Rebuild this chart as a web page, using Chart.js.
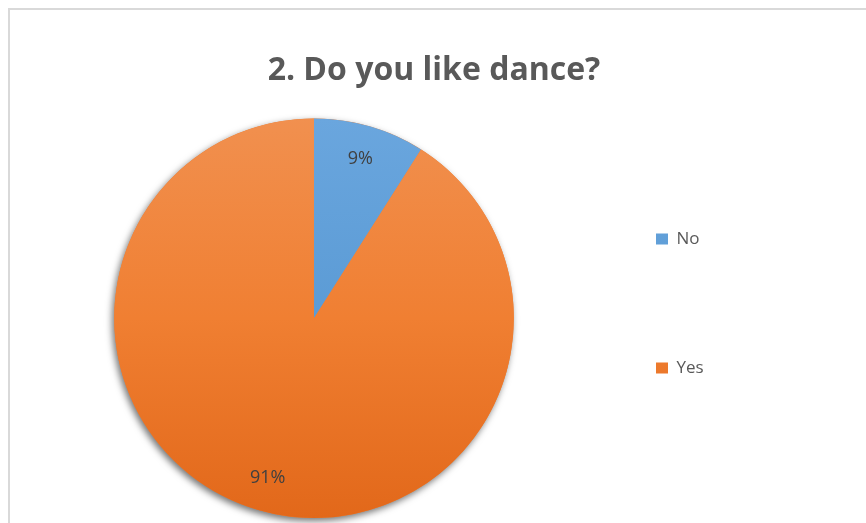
<!DOCTYPE html>
<html>
<head>
<meta charset="utf-8">
<script src="https://cdn.jsdelivr.net/npm/chart.js@4.4.1/dist/chart.umd.min.js"></script>
<style>
  html, body { margin: 0; padding: 0; background: #fff; overflow: hidden; }
  #frame { position: absolute; left: 8px; top: 8px; width: 1000px; height: 800px;
           border-left: 2px solid #d9d9d9; border-top: 2px solid #d9d9d9; }
  #wrap { position: absolute; left: 0; top: 0; width: 866px; height: 523px; }
</style>
</head>
<body>
<div id="frame"></div>
<div id="wrap"><canvas id="myChart"></canvas></div>
<script>
const chartTitle = '2. Do you like dance?';
const answers = ['No', 'Yes'];
const percents = [9, 91];

Chart.defaults.font.family = '"Open Sans", sans-serif';

// vertical gradient over the pie, light at the top and darker at the bottom (Excel style)
function shaded(light, mid, dark) {
  return function (c) {
    const area = c.chart.chartArea;
    if (!area) return mid;
    const g = c.chart.ctx.createLinearGradient(0, area.top, 0, area.bottom);
    g.addColorStop(0, light);
    g.addColorStop(0.5, mid);
    g.addColorStop(1, dark);
    return g;
  };
}
const blue = shaded('#6aa6de', '#5b9bd5', '#4c8dcc');
const orange = shaded('#f1904f', '#f07f32', '#e2681a');

// Excel keeps a wide legend column on the right; make Chart.js reserve the same room
const wideLegend = {
  id: 'wideLegend',
  afterInit(chart) {
    const legend = chart.legend;
    const fit = legend.fit;
    legend.fit = function () {
      fit.call(this);
      this.width = 240;
    };
  }
};

// soft drop shadow under the whole pie
const pieShadow = {
  id: 'pieShadow',
  beforeDatasetsDraw(chart) {
    const arc = chart.getDatasetMeta(0).data[0];
    if (!arc) return;
    const {x, y, outerRadius} = arc.getProps(['x', 'y', 'outerRadius'], true);
    const ctx = chart.ctx;
    ctx.save();
    ctx.shadowColor = 'rgba(0,0,0,0.55)';
    ctx.shadowBlur = 7;
    ctx.shadowOffsetX = -2;
    ctx.shadowOffsetY = 3;
    ctx.beginPath();
    ctx.arc(x, y, outerRadius, 0, Math.PI * 2);
    ctx.fillStyle = '#ed7d31';
    ctx.fill();
    ctx.restore();
  }
};

// percentage labels inside the slices
const sliceLabels = {
  id: 'sliceLabels',
  afterDatasetsDraw(chart) {
    const ctx = chart.ctx;
    const values = chart.data.datasets[0].data;
    const total = values.reduce((a, b) => a + b, 0);
    ctx.save();
    ctx.font = '18px "Open Sans"';
    ctx.fillStyle = '#404040';
    ctx.textAlign = 'center';
    ctx.textBaseline = 'middle';
    chart.getDatasetMeta(0).data.forEach((arc, i) => {
      const p = arc.getProps(['x', 'y', 'startAngle', 'endAngle', 'outerRadius'], true);
      const mid = (p.startAngle + p.endAngle) / 2;
      const r = p.outerRadius * 0.83;
      ctx.fillText(Math.round(values[i] / total * 100) + '%', p.x + Math.cos(mid) * r, p.y + Math.sin(mid) * r);
    });
    ctx.restore();
  }
};

const ctx = document.getElementById('myChart').getContext('2d');
const chart = new Chart(ctx, {
  type: 'pie',
  data: {
    labels: answers,
    datasets: [{
      data: percents,
      backgroundColor: (c) => (c.dataIndex === 0 ? blue(c) : orange(c)),
      borderWidth: 0
    }]
  },
  options: {
    responsive: true,
    maintainAspectRatio: false,
    animation: false,
    layout: { padding: { top: 20, left: 84, right: 82, bottom: 5 } },
    plugins: {
      title: {
        display: true,
        text: chartTitle,
        color: '#595959',
        font: { size: 32, weight: 'bold' },
        padding: { top: 32, bottom: 28 }
      },
      legend: {
        position: 'right',
        align: 'start',
        fullSize: false,
        labels: {
          boxWidth: 12,
          boxHeight: 11,
          padding: 112,
          color: '#595959',
          font: { size: 17 }
        }
      },
      tooltip: { enabled: false }
    }
  },
  plugins: [wideLegend, pieShadow, sliceLabels]
});
</script>
</body>
</html>
